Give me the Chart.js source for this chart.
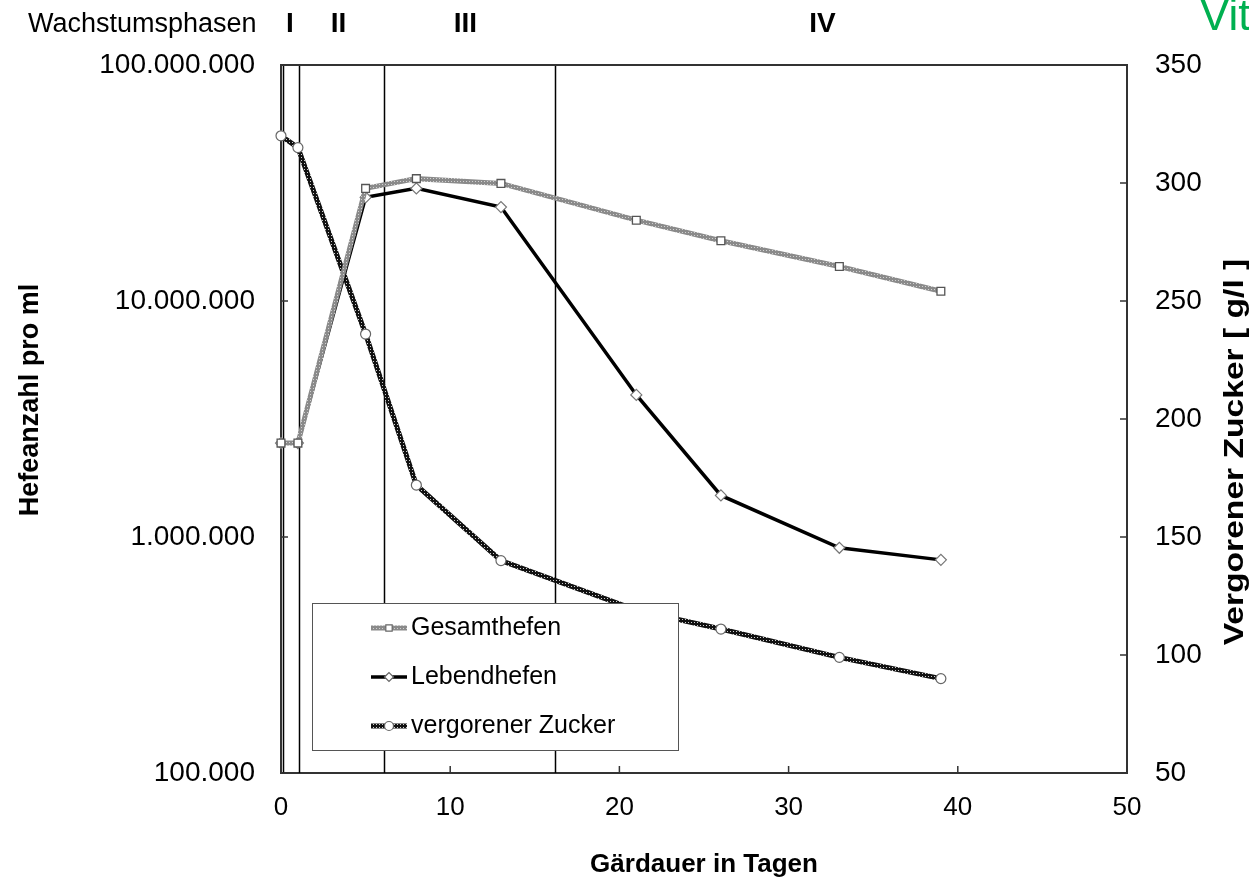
<!DOCTYPE html>
<html>
<head>
<meta charset="utf-8">
<script src="https://cdn.jsdelivr.net/npm/chart.js@4.4.0/dist/chart.umd.min.js"></script>
<style>
  body { margin: 0; background: #fff; }
  canvas { display: block; }
</style>
</head>
<body>
<canvas id="chart" width="1249" height="880"></canvas>
<script>
// Gärdauer (Tage)
var days = [0, 1, 5, 8, 13, 21, 26, 33, 39];
// Hefeanzahl pro ml
var gesamthefen = [2.5e6, 2.5e6, 3.0e7, 3.3e7, 3.15e7, 2.2e7, 1.8e7, 1.4e7, 1.1e7];
var lebendhefen = [2.5e6, 2.5e6, 2.75e7, 3.0e7, 2.5e7, 4.0e6, 1.5e6, 9.0e5, 8.0e5];
// vergorener Zucker g/l
var zucker = [320, 315, 236, 172, 140, 119, 111, 99, 90];

var seriesNames = ['Gesamthefen', 'Lebendhefen', 'vergorener Zucker'];
var leftTicks = [1e5, 1e6, 1e7, 1e8];
var leftTickLabels = ['100.000', '1.000.000', '10.000.000', '100.000.000'];

// Wachstumsphasen
var phaseNames = ['I', 'II', 'III', 'IV'];
var phaseBounds = [0.1, 1.05, 6.1, 16.2];
var phaseLabelX = [0.53, 3.4, 10.9, 32.0];

var FONT = '"Liberation Sans", Arial, sans-serif';

function makePattern(base, dot) {
  var c = document.createElement('canvas');
  c.width = 3; c.height = 3;
  var g = c.getContext('2d');
  g.fillStyle = base;
  g.fillRect(0, 0, 3, 3);
  g.fillStyle = dot;
  g.fillRect(1, 1, 1, 1);
  return g.createPattern(c, 'repeat');
}

var greyLine = makePattern('#8a8a8a', '#d0d0d0');
var darkLine = makePattern('#111111', '#cfcfcf');

function pts(ys) {
  return days.map(function (d, i) { return { x: d, y: ys[i] }; });
}

var extras = {
  id: 'extras',
  beforeDatasetsDraw: function (chart) {
    var ctx = chart.ctx, a = chart.chartArea, sx = chart.scales.x;
    ctx.save();
    ctx.strokeStyle = '#000';
    ctx.lineWidth = 1.5;
    phaseBounds.forEach(function (v) {
      var px = Math.round(sx.getPixelForValue(v)) + 0.5;
      ctx.beginPath();
      ctx.moveTo(px, a.top);
      ctx.lineTo(px, a.bottom);
      ctx.stroke();
    });
    ctx.restore();
  },
  afterDraw: function (chart) {
    var ctx = chart.ctx, a = chart.chartArea;
    var sx = chart.scales.x, sy = chart.scales.y, sy1 = chart.scales.y1;
    ctx.save();

    // top frame line
    ctx.strokeStyle = '#333';
    ctx.lineWidth = 2;
    ctx.beginPath();
    ctx.moveTo(a.left, a.top);
    ctx.lineTo(a.right, a.top);
    ctx.stroke();

    // inward tick marks
    var tl = 7;
    ctx.lineWidth = 1.5;
    ctx.beginPath();
    sx.ticks.forEach(function (t) {
      var px = sx.getPixelForValue(t.value);
      ctx.moveTo(px, a.bottom); ctx.lineTo(px, a.bottom - tl);
    });
    sy.ticks.forEach(function (t) {
      var py = sy.getPixelForValue(t.value);
      ctx.moveTo(a.left, py); ctx.lineTo(a.left + tl, py);
    });
    sy1.ticks.forEach(function (t) {
      var py = sy1.getPixelForValue(t.value);
      ctx.moveTo(a.right, py); ctx.lineTo(a.right - tl, py);
    });
    ctx.stroke();

    // y titles
    ctx.fillStyle = '#000';
    ctx.textAlign = 'center';
    ctx.textBaseline = 'middle';
    ctx.font = 'bold 27px ' + FONT;
    ctx.save();
    ctx.translate(31, 400);
    ctx.rotate(-Math.PI / 2);
    ctx.fillText('Hefeanzahl pro ml', 0, 0);
    ctx.restore();
    ctx.font = 'bold 28px ' + FONT;
    ctx.save();
    ctx.translate(1235, 452);
    ctx.rotate(-Math.PI / 2);
    ctx.scale(1.2, 1);
    ctx.fillText('Vergorener Zucker [ g/l ]', 0, 0);
    ctx.restore();

    // header: Wachstumsphasen
    ctx.textBaseline = 'alphabetic';
    ctx.textAlign = 'left';
    ctx.font = '27px ' + FONT;
    ctx.fillText('Wachstumsphasen', 28, 32);
    ctx.font = 'bold 28px ' + FONT;
    ctx.textAlign = 'center';
    phaseNames.forEach(function (n, i) {
      ctx.fillText(n, sx.getPixelForValue(phaseLabelX[i]), 32);
    });

    ctx.fillStyle = '#00b050';
    ctx.font = '44px ' + FONT;
    ctx.textAlign = 'left';
    ctx.fillText('Vit', 1200, 30);

    // legend box
    var lx = 312, ly = 603, lw = 366, lh = 147;
    ctx.fillStyle = '#fff';
    ctx.fillRect(lx, ly, lw, lh);
    ctx.strokeStyle = '#555';
    ctx.lineWidth = 1;
    ctx.strokeRect(lx + 0.5, ly + 0.5, lw, lh);
    var rows = [628, 677, 726];
    var ds = chart.data.datasets;
    ctx.font = '25px ' + FONT;
    ctx.textBaseline = 'middle';
    ctx.textAlign = 'left';
    rows.forEach(function (ry, i) {
      var d = ds[i];
      ctx.strokeStyle = d.borderColor;
      ctx.lineWidth = d.borderWidth;
      ctx.beginPath();
      ctx.moveTo(371, ry);
      ctx.lineTo(407, ry);
      ctx.stroke();
      ctx.fillStyle = '#fff';
      ctx.strokeStyle = '#666';
      ctx.lineWidth = 1.2;
      Chart.helpers.drawPoint(ctx, {
        pointStyle: d.pointStyle, radius: 4.5, rotation: 0, borderWidth: 1.2
      }, 389, ry);
      ctx.fillStyle = '#000';
      ctx.fillText(seriesNames[i], 411, ry);
    });
    ctx.restore();
  }
};

var chart = new Chart(document.getElementById('chart'), {
  type: 'line',
  data: {
    datasets: [
      {
        label: seriesNames[0],
        data: pts(gesamthefen),
        yAxisID: 'y',
        borderColor: greyLine,
        borderWidth: 5,
        pointStyle: 'rect',
        pointRadius: 5.5,
        pointBackgroundColor: '#fff',
        pointBorderColor: '#555',
        pointBorderWidth: 1.3,
        tension: 0,
        clip: false
      },
      {
        label: seriesNames[1],
        data: pts(lebendhefen),
        yAxisID: 'y',
        borderColor: '#000',
        borderWidth: 3.5,
        pointStyle: 'rectRot',
        pointRadius: 5.5,
        pointBackgroundColor: '#fff',
        pointBorderColor: '#777',
        pointBorderWidth: 1.2,
        tension: 0,
        clip: false
      },
      {
        label: seriesNames[2],
        data: pts(zucker),
        yAxisID: 'y1',
        borderColor: darkLine,
        borderWidth: 5,
        pointStyle: 'circle',
        pointRadius: 5,
        pointBackgroundColor: '#fff',
        pointBorderColor: '#666',
        pointBorderWidth: 1.2,
        tension: 0,
        clip: false
      }
    ]
  },
  options: {
    responsive: false,
    animation: false,
    layout: { padding: { top: 65, left: 0, right: 0, bottom: 0 } },
    plugins: { legend: { display: false }, tooltip: { enabled: false } },
    scales: {
      x: {
        type: 'linear',
        min: 0, max: 50,
        grid: { display: false },
        border: { display: true, color: '#333', width: 2 },
        ticks: { stepSize: 10, padding: 11, color: '#000', font: { family: FONT, size: 26 } },
        title: { display: true, text: 'Gärdauer in Tagen', color: '#000', padding: 0,
                 font: { family: FONT, size: 26, weight: 'bold' } },
        afterFit: function (s) { s.height = 107; }
      },
      y: {
        type: 'logarithmic',
        position: 'left',
        min: 1e5, max: 1e8,
        grid: { display: false },
        border: { display: true, color: '#333', width: 2 },
        afterBuildTicks: function (s) {
          s.ticks = leftTicks.map(function (v) { return { value: v }; });
        },
        ticks: {
          padding: 18, color: '#000', font: { family: FONT, size: 28 },
          callback: function (v) { return leftTickLabels[leftTicks.indexOf(v)]; }
        },
        afterFit: function (s) { s.width = 281; }
      },
      y1: {
        type: 'linear',
        position: 'right',
        min: 50, max: 350,
        grid: { display: false },
        border: { display: true, color: '#333', width: 2 },
        ticks: { stepSize: 50, padding: 20, color: '#000', font: { family: FONT, size: 28 } },
        afterFit: function (s) { s.width = 122; }
      }
    }
  },
  plugins: [extras]
});
</script>
</body>
</html>
